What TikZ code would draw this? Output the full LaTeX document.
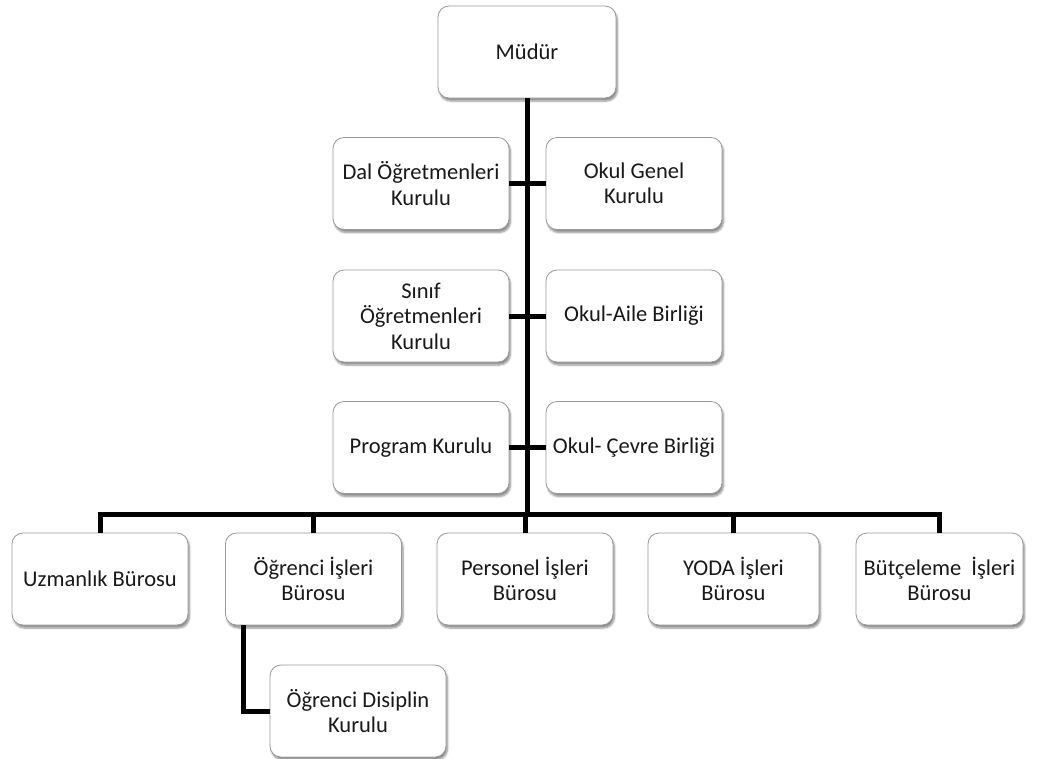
\documentclass[tikz,border=0pt]{standalone}
\usepackage{fontspec}
\setmainfont{Carlito}
\usetikzlibrary{shadows.blur}
\begin{document}
\begin{tikzpicture}[x=1pt,y=-1pt,
  box/.style={draw=black!40, line width=0.8pt, fill=white, rounded corners=11pt,
    minimum width=176pt, minimum height=92pt, align=center, inner sep=1pt,
    font=\fontsize{22.5}{25.5}\selectfont, text=black!90,
    blur shadow={shadow xshift=1.5pt, shadow yshift=-3pt, shadow blur steps=6, shadow opacity=45}},
  link/.style={line width=5pt, black}]
\useasboundingbox (0,0) rectangle (1039,758);
\node[box, minimum width=178pt] (mudur) at (527,52) {Müdür};
\node[box] (dal) at (421,183.5) {Dal Öğretmenleri\\Kurulu};
\node[box] (genel) at (634,183.5) {Okul Genel\\Kurulu};
\node[box] (sinif) at (421,316) {Sınıf\\Öğretmenleri\\Kurulu};
\node[box] (aile) at (634,316) {Okul-Aile Birliği};
\node[box] (program) at (421,447.5) {Program Kurulu};
\node[box] (cevre) at (634,447.5) {Okul- Çevre Birliği};
\node[box] (uzman) at (100,579) {Uzmanlık Bürosu};
\node[box] (ogrenci) at (313.5,579) {Öğrenci İşleri\\Bürosu};
\node[box] (personel) at (525,579) {Personel İşleri\\Bürosu};
\node[box, minimum width=171pt] (yoda) at (733.5,579) {YODA İşleri\\Bürosu};
\node[box, minimum width=167pt] (butce) at (939.5,579) {Bütçeleme~ İşleri\\Bürosu};
\node[box] (disiplin) at (358,711) {Öğrenci Disiplin\\Kurulu};
\coordinate (bus) at (527,514);
\draw[link] (mudur.south) -- (bus);
\draw[link] (dal.east) -- (genel.west);
\draw[link] (sinif.east) -- (aile.west);
\draw[link] (program.east) -- (cevre.west);
\draw[link] (uzman.north) |- (bus) -| (butce.north);
\draw[link] (ogrenci.north) -- (ogrenci.north |- bus);
\draw[link] (personel.north) -- (personel.north |- bus);
\draw[link] (yoda.north) -- (yoda.north |- bus);
\draw[link] ([xshift=-70pt]ogrenci.south) |- (disiplin.west);
\end{tikzpicture}
\end{document}
